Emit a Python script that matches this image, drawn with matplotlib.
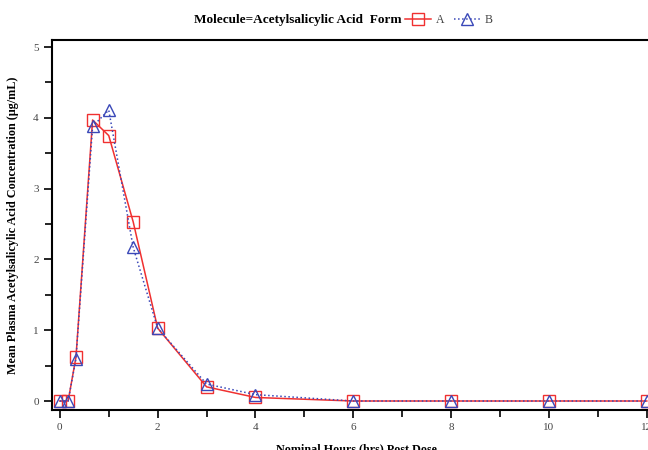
import matplotlib
matplotlib.use("Agg")
import matplotlib.pyplot as plt
from matplotlib.lines import Line2D
from matplotlib.ticker import MultipleLocator

hours = [0, 0.17, 0.33, 0.67, 1, 1.5, 2, 3, 4, 6, 8, 10, 12]
conc_A = [0, 0, 0.62, 3.97, 3.75, 2.53, 1.03, 0.20, 0.05, 0, 0, 0, 0]
conc_B = [0, 0, 0.60, 3.88, 4.11, 2.17, 1.03, 0.24, 0.09, 0, 0, 0, 0]
xticks = [0, 2, 4, 6, 8, 10, 12]
yticks = [0, 1, 2, 3, 4, 5]

red = "#f03030"
blue = "#3a48b8"

plt.rcParams['font.family'] = ['Liberation Serif', 'DejaVu Serif']

fig = plt.figure(figsize=(6.48, 4.5), dpi=100)
ax = fig.add_axes([52/648, 40/450, 609.5/648, 370/450])

ax.plot(hours, conc_A, color=red, lw=1.1, ls='-', marker='s', ms=8.5,
        mfc='none', mec=red, mew=1.0, zorder=3)
ax.plot(hours, conc_B, color=blue, lw=1.1, ls=':', marker='^', ms=9,
        mfc='none', mec=blue, mew=1.0, zorder=4)

ax.set_xlim(-0.16, 12.3)
ax.set_ylim(-0.127, 5.10)
ax.set_xticks(xticks)
ax.set_yticks(yticks)
ax.xaxis.set_minor_locator(MultipleLocator(1))
ax.yaxis.set_minor_locator(MultipleLocator(0.5))
ax.tick_params(which='major', direction='out', length=6, width=1.2,
               labelsize=8, labelcolor='#444444')
ax.tick_params(which='minor', direction='out', length=5, width=1.2)
for s in ax.spines.values():
    s.set_linewidth(1.5)

ax.set_xlabel("Nominal Hours (hrs) Post Dose", fontsize=8.7, fontweight='bold', labelpad=8)
ax.set_ylabel("Mean Plasma Acetylsalicylic Acid Concentration (\u03bcg/mL)",
              fontsize=8.7, fontweight='bold', labelpad=10)

fig.text(402/648, 1 - 20/450, "Molecule=Acetylsalicylic Acid  Form", ha='right', va='center',
         fontsize=9.5, fontweight='bold')
handles = [Line2D([], [], color=red, ls='-', marker='s', ms=8.5, mfc='none', mec=red, lw=1.1),
           Line2D([], [], color=blue, ls=':', marker='^', ms=9, mfc='none', mec=blue, lw=1.1)]
fig.legend(handles, ['A', 'B'], loc='center left', bbox_to_anchor=(405/648, 1 - 20/450),
           ncol=2, frameon=False, fontsize=8.5, handlelength=2.2, handletextpad=0.4,
           columnspacing=0.8, borderpad=0, borderaxespad=0, labelcolor='#444444')

fig.savefig("out.png", dpi=100)
